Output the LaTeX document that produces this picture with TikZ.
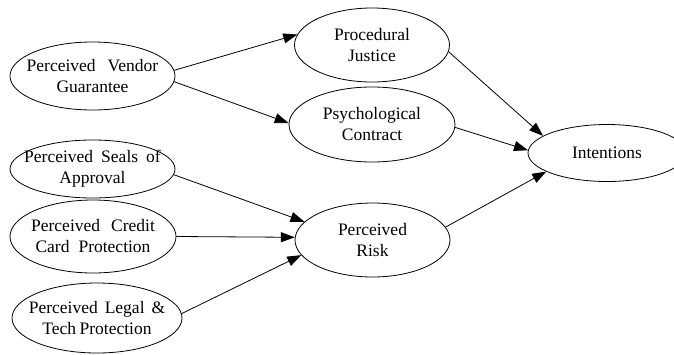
\documentclass[tikz,border=0pt]{standalone}
\usepackage{fontspec}
\setmainfont{Liberation Serif}
\usetikzlibrary{arrows.meta,shapes.geometric}

\begin{document}
\begin{tikzpicture}[->,>={Triangle[length=14pt,width=10pt]},x=1pt,y=-1pt,line width=0.8pt,
    factor/.style={shape=ellipse,draw=black,inner xsep=-20pt,inner ysep=-8pt,align=center,
        font=\fontsize{17.5}{21}\selectfont}]
            \useasboundingbox (0, 0) rectangle (674, 354);
            \node[factor,minimum width=165pt,minimum height=68pt](vendor)at(92.5, 76){Perceived\hspace{12pt}Vendor\\Guarantee};
            \node[factor,minimum width=165pt,minimum height=58pt](seals)at(92.5, 169){Perceived\hspace{8pt}Seals\hspace{8pt}of\\Approval};
            \node[factor,minimum width=166pt,minimum height=73pt](credit)at(93, 236.5){Perceived\hspace{11pt}Credit\\Card\hspace{9pt}Protection};
            \node[factor,minimum width=170pt,minimum height=70pt](legal)at(97, 318){Perceived\hspace{7pt}Legal\hspace{7pt}\&\\Tech\hspace{-1pt} Protection};
            \node[factor,minimum width=155pt,minimum height=74pt](proc)at(372, 45){Procedural\\Justice};
            \node[factor,minimum width=166pt,minimum height=75pt](psych)at(372, 124.5){Psychological\\Contract};
            \node[factor,minimum width=155pt,minimum height=74pt](risk)at(372.5, 240){Perceived\\Risk};
            \node[factor,minimum width=158pt,minimum height=57pt](intent)at(607, 153){Intentions};
            \path[](vendor.4) edge (proc.172)
            (vendor.-4) edge (psych.179)
            (seals.-4) edge (risk.165)
            (credit.0) edge (risk.178)
            (legal.3) edge (risk.192)
            (proc.-5) edge (intent.165)
            (psych.-2) edge (intent.178)
            (risk.10) edge (intent.197);
        \end{tikzpicture}
\end{document}
